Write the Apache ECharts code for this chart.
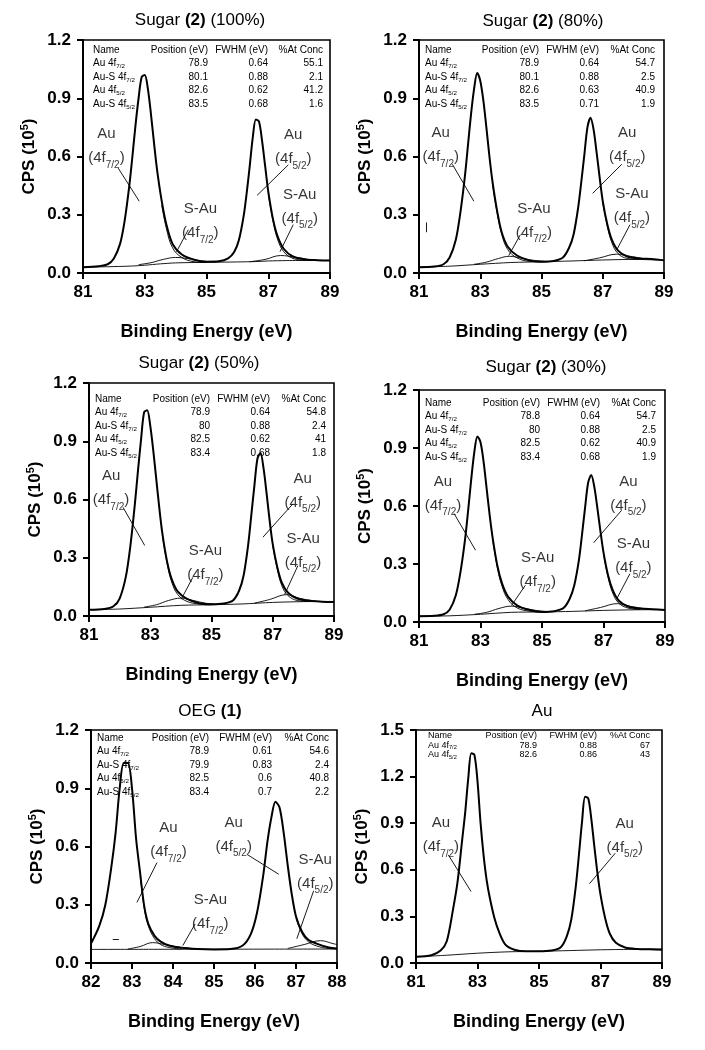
<!DOCTYPE html>
<html>
<head>
<meta charset="UTF-8">
<title>Au 4f XPS</title>
<script src="https://cdn.jsdelivr.net/npm/echarts@6/dist/echarts.min.js"></script>
<style>
html, body { margin: 0; padding: 0; background: #fff; }
#main { width: 705px; height: 1050px; }
</style>
</head>
<body>
<div id="main"></div>
<script>
// binding energy points (eV) used by the 81-89 panels
var xWide = [81, 81.5, 81.8, 82.0, 82.2, 82.35, 82.5, 82.6, 82.7, 82.8, 82.9, 83.0, 83.1, 83.2, 83.3, 83.4, 83.55, 83.7, 83.9, 84.2,
  84.6, 85.0, 85.4, 85.7, 85.9, 86.05, 86.2, 86.3, 86.4, 86.5, 86.6, 86.7, 86.8, 86.9, 87.0, 87.15, 87.3, 87.5, 87.8, 88.2, 88.6, 89];
// OEG panel runs 82-88
var xOeg = [82.0, 82.2, 82.35, 82.5, 82.6, 82.7, 82.8, 82.9, 83.0, 83.1, 83.2, 83.3, 83.4, 83.55, 83.7, 83.9, 84.2, 84.6, 85.0,
  85.4, 85.7, 85.9, 86.05, 86.2, 86.3, 86.4, 86.5, 86.6, 86.7, 86.8, 86.9, 87.0, 87.15, 87.3, 87.5, 87.8, 88.0];

// measured envelopes, CPS (10^5)
var env100 = [0.030, 0.035, 0.045, 0.075, 0.15, 0.27, 0.45, 0.60, 0.76, 0.90, 1.01, 1.02, 0.95, 0.82, 0.67, 0.53, 0.37, 0.25, 0.15, 0.095,
  0.068, 0.058, 0.060, 0.075, 0.11, 0.17, 0.29, 0.41, 0.55, 0.70, 0.79, 0.78, 0.68, 0.55, 0.42, 0.28, 0.19, 0.125, 0.085, 0.070, 0.066, 0.064];
var env80 = [0.030, 0.033, 0.045, 0.08, 0.17, 0.31, 0.50, 0.66, 0.82, 0.95, 1.03, 0.99, 0.89, 0.75, 0.60, 0.47, 0.32, 0.21, 0.135, 0.09,
  0.065, 0.058, 0.062, 0.08, 0.13, 0.20, 0.34, 0.47, 0.61, 0.75, 0.80, 0.74, 0.62, 0.49, 0.37, 0.25, 0.17, 0.115, 0.085, 0.075, 0.072, 0.065];
var env50 = [0.032, 0.036, 0.05, 0.09, 0.20, 0.36, 0.58, 0.75, 0.91, 1.05, 1.06, 0.98, 0.85, 0.70, 0.55, 0.42, 0.28, 0.19, 0.125, 0.088,
  0.066, 0.060, 0.064, 0.08, 0.13, 0.21, 0.37, 0.52, 0.67, 0.81, 0.84, 0.76, 0.63, 0.49, 0.37, 0.25, 0.17, 0.12, 0.09, 0.078, 0.074, 0.072];
var env30 = [0.030, 0.032, 0.04, 0.065, 0.14, 0.26, 0.43, 0.58, 0.74, 0.88, 0.96, 0.93, 0.83, 0.69, 0.55, 0.43, 0.29, 0.20, 0.13, 0.085,
  0.062, 0.052, 0.056, 0.072, 0.12, 0.19, 0.32, 0.45, 0.59, 0.72, 0.76, 0.70, 0.59, 0.47, 0.36, 0.24, 0.165, 0.11, 0.08, 0.07, 0.066, 0.062];
var envOeg = [0.10, 0.19, 0.30, 0.50, 0.67, 0.90, 1.03, 1.03, 0.90, 0.64, 0.46, 0.29, 0.20, 0.14, 0.11, 0.09, 0.078, 0.072, 0.07,
  0.072, 0.09, 0.15, 0.26, 0.45, 0.62, 0.75, 0.83, 0.80, 0.67, 0.50, 0.35, 0.24, 0.16, 0.12, 0.10, 0.08, 0.075];
var envAu = [0.04, 0.05, 0.08, 0.14, 0.34, 0.52, 0.79, 0.97, 1.19, 1.35, 1.34, 1.17, 0.90, 0.69, 0.53, 0.42, 0.29, 0.20, 0.12, 0.085,
  0.075, 0.075, 0.08, 0.10, 0.17, 0.28, 0.50, 0.70, 0.91, 1.07, 1.06, 0.93, 0.75, 0.58, 0.44, 0.29, 0.19, 0.13, 0.10, 0.09, 0.088, 0.085];

// backgrounds, S-Au components and Au component tails, [eV, CPS]
var bg100 = [[81, 0.030], [82, 0.033], [82.6, 0.036], [83, 0.040], [83.5, 0.047], [84, 0.052], [85, 0.055], [86, 0.057], [86.6, 0.059], [87, 0.062], [87.6, 0.064], [89, 0.065]];
var sau7_100 = [[82.8, 0.043], [83.2, 0.053], [83.6, 0.07], [84.0, 0.08], [84.4, 0.074], [84.8, 0.063], [85.3, 0.056]];
var sau5_100 = [[86.4, 0.058], [86.9, 0.07], [87.4, 0.09], [87.9, 0.08], [88.4, 0.067]];
var t7_100 = [[83.55, 0.35], [83.7, 0.23], [83.9, 0.13], [84.2, 0.08], [84.6, 0.058], [85.0, 0.054]];
var t5_100 = [[87.0, 0.41], [87.15, 0.27], [87.3, 0.175], [87.5, 0.11], [87.8, 0.075], [88.2, 0.065]];

var bg80 = [[81, 0.030], [82, 0.035], [83, 0.045], [84, 0.054], [85, 0.058], [86, 0.062], [87, 0.067], [88, 0.07], [89, 0.066]];
var sau7_80 = [[82.8, 0.045], [83.2, 0.056], [83.6, 0.075], [83.95, 0.086], [84.3, 0.078], [84.7, 0.066], [85.2, 0.06]];
var sau5_80 = [[86.4, 0.063], [86.9, 0.078], [87.45, 0.097], [87.9, 0.086], [88.4, 0.072]];
var t7_80 = [[83.4, 0.46], [83.55, 0.31], [83.7, 0.20], [83.9, 0.12], [84.2, 0.078], [84.6, 0.06], [85.0, 0.057]];
var t5_80 = [[87.0, 0.36], [87.15, 0.24], [87.3, 0.155], [87.5, 0.10], [87.8, 0.075], [88.2, 0.07]];

var bg50 = [[81, 0.032], [82, 0.036], [83, 0.045], [84, 0.055], [85, 0.058], [86, 0.062], [87, 0.07], [88, 0.074], [89, 0.075]];
var sau7_50 = [[82.8, 0.046], [83.2, 0.058], [83.6, 0.08], [84.0, 0.092], [84.4, 0.08], [84.8, 0.066], [85.2, 0.06]];
var sau5_50 = [[86.4, 0.066], [86.9, 0.085], [87.45, 0.11], [87.9, 0.09], [88.4, 0.077]];
var t7_50 = [[83.4, 0.41], [83.55, 0.27], [83.7, 0.175], [83.9, 0.11], [84.2, 0.075], [84.6, 0.062], [85.0, 0.058]];
var t5_50 = [[87.0, 0.36], [87.15, 0.24], [87.3, 0.155], [87.5, 0.105], [87.8, 0.08], [88.2, 0.075]];

var bg30 = [[81, 0.030], [82, 0.032], [83, 0.040], [84, 0.050], [85, 0.052], [86, 0.055], [87, 0.060], [88, 0.063], [89, 0.064]];
var sau7_30 = [[82.8, 0.04], [83.2, 0.05], [83.6, 0.07], [84.0, 0.082], [84.4, 0.072], [84.8, 0.06], [85.2, 0.054]];
var sau5_30 = [[86.4, 0.058], [86.9, 0.075], [87.45, 0.095], [87.9, 0.08], [88.4, 0.067]];
var t7_30 = [[83.4, 0.42], [83.55, 0.28], [83.7, 0.185], [83.9, 0.115], [84.2, 0.072], [84.6, 0.056], [85.0, 0.052]];
var t5_30 = [[87.0, 0.35], [87.15, 0.23], [87.3, 0.15], [87.5, 0.097], [87.8, 0.072], [88.2, 0.065]];

var bgOeg = [[82, 0.070], [85, 0.071], [88, 0.072]];
var sau7_oeg = [[82.9, 0.072], [83.2, 0.085], [83.5, 0.105], [83.8, 0.095], [84.2, 0.08], [84.6, 0.072]];
var sau5_oeg = [[86.8, 0.075], [87.2, 0.095], [87.6, 0.115], [87.9, 0.1], [88.0, 0.095]];
var t7_oeg = [[83.2, 0.45], [83.3, 0.28], [83.4, 0.19], [83.55, 0.125], [83.7, 0.095], [83.9, 0.08], [84.2, 0.072]];
var t5_oeg = [[87.0, 0.23], [87.15, 0.15], [87.3, 0.11], [87.5, 0.088], [87.8, 0.075], [88.0, 0.073]];

var bgAu = [[81, 0.04], [82, 0.05], [83, 0.063], [84, 0.072], [85, 0.075], [86, 0.08], [87, 0.085], [88, 0.088], [89, 0.09]];

// fit tables
var tabHead = ['Name', 'Position (eV)', 'FWHM (eV)', '%At Conc'];
var names4 = ['Au 4f{s|7/2}', 'Au-S 4f{s|7/2}', 'Au 4f{s|5/2}', 'Au-S 4f{s|5/2}'];
var names2 = ['Au 4f{s|7/2}', 'Au 4f{s|5/2}'];
var tab100 = [['78.9', '0.64', '55.1'], ['80.1', '0.88', '2.1'], ['82.6', '0.62', '41.2'], ['83.5', '0.68', '1.6']];
var tab80 = [['78.9', '0.64', '54.7'], ['80.1', '0.88', '2.5'], ['82.6', '0.63', '40.9'], ['83.5', '0.71', '1.9']];
var tab50 = [['78.9', '0.64', '54.8'], ['80', '0.88', '2.4'], ['82.5', '0.62', '41'], ['83.4', '0.68', '1.8']];
var tab30 = [['78.8', '0.64', '54.7'], ['80', '0.88', '2.5'], ['82.5', '0.62', '40.9'], ['83.4', '0.68', '1.9']];
var tabOeg = [['78.9', '0.61', '54.6'], ['79.9', '0.83', '2.4'], ['82.5', '0.6', '40.8'], ['83.4', '0.7', '2.2']];
var tabAu = [['78.9', '0.88', '67'], ['82.6', '0.86', '43']];

// peak labels [text, eV, CPS] and leader lines [x1, y1, x2, y2]
var AU7 = 'Au\n(4f{s|7/2})', AU5 = 'Au\n(4f{s|5/2})', SA7 = 'S-Au\n(4f{s|7/2})', SA5 = 'S-Au\n(4f{s|5/2})';
var notes100 = [[AU7, 81.76, 0.655], [AU5, 87.81, 0.65], [SA7, 84.8, 0.266], [SA5, 88.02, 0.342]];
var lead100 = [[82.14, 0.54, 82.82, 0.37], [87.65, 0.557, 86.64, 0.40], [84.41, 0.223, 84.03, 0.11], [87.81, 0.249, 87.38, 0.11]];
var notes80 = [[AU7, 81.71, 0.66], [AU5, 87.8, 0.66], [SA7, 84.75, 0.27], [SA5, 87.95, 0.346]];
var lead80 = [[82.09, 0.56, 82.79, 0.37], [87.62, 0.56, 86.67, 0.41], [84.31, 0.197, 83.93, 0.09], [87.89, 0.249, 87.46, 0.12],
  [81.24, 0.21, 81.24, 0.26]];
var notes50 = [[AU7, 81.72, 0.66], [AU5, 87.98, 0.647], [SA7, 84.8, 0.274], [SA5, 87.99, 0.338]];
var lead50 = [[82.11, 0.56, 82.82, 0.363], [87.66, 0.578, 86.68, 0.406], [84.39, 0.199, 84.01, 0.086], [87.82, 0.259, 87.39, 0.112]];
var notes30 = [[AU7, 81.78, 0.665], [AU5, 87.81, 0.665], [SA7, 84.86, 0.268], [SA5, 87.97, 0.341]];
var lead30 = [[82.14, 0.561, 82.84, 0.371], [87.59, 0.578, 86.68, 0.41], [84.46, 0.19, 84.01, 0.086], [87.86, 0.25, 87.43, 0.12]];
var notesOeg = [[AU7, 83.89, 0.632], [AU5, 85.48, 0.662], [SA7, 84.91, 0.261], [SA5, 87.47, 0.47]];
var leadOeg = [[83.61, 0.517, 83.12, 0.312], [85.80, 0.56, 86.58, 0.457], [84.54, 0.201, 84.24, 0.09], [87.43, 0.372, 87.02, 0.125],
  [82.53, 0.12, 82.68, 0.12]];
var notesAu = [[AU7, 81.81, 0.825], [AU5, 87.79, 0.82]];
var leadAu = [[82.05, 0.696, 82.79, 0.46], [87.48, 0.707, 86.64, 0.51]];

var FONT = '"Liberation Sans", Arial, sans-serif';

function zip(xs, ys) {
  return xs.map(function (x, i) { return [x, ys[i]]; });
}

// grid rect [left, top, width, height]; table cols [name x, pos right, fwhm right, conc right, head y, row step, font]
var panels = [
  { title: 'Sugar {b|(2)} (100%)', tx: 200, ty: 20, rect: [83, 40, 247, 233], xr: [81, 89, 2], ymax: 1.2,
    env: zip(xWide, env100), bg: bg100, parts: [sau7_100, sau5_100, t7_100, t5_100], names: names4, tab: tab100,
    cols: [10, 125, 185, 240, 10, 13.5, 10], notes: notes100, leads: lead100 },
  { title: 'Sugar {b|(2)} (80%)', tx: 543, ty: 21, rect: [419, 40, 245, 233], xr: [81, 89, 2], ymax: 1.2,
    env: zip(xWide, env80), bg: bg80, parts: [sau7_80, sau5_80, t7_80, t5_80], names: names4, tab: tab80,
    cols: [6, 120, 180, 236, 10, 13.5, 10], notes: notes80, leads: lead80 },
  { title: 'Sugar {b|(2)} (50%)', tx: 199, ty: 363, rect: [89, 383, 245, 233], xr: [81, 89, 2], ymax: 1.2,
    env: zip(xWide, env50), bg: bg50, parts: [sau7_50, sau5_50, t7_50, t5_50], names: names4, tab: tab50,
    cols: [6, 121, 181, 237, 16, 13.5, 10], notes: notes50, leads: lead50 },
  { title: 'Sugar {b|(2)} (30%)', tx: 546, ty: 367, rect: [419, 390, 246, 232], xr: [81, 89, 2], ymax: 1.2,
    env: zip(xWide, env30), bg: bg30, parts: [sau7_30, sau5_30, t7_30, t5_30], names: names4, tab: tab30,
    cols: [6, 121, 181, 237, 13, 13.5, 10], notes: notes30, leads: lead30 },
  { title: 'OEG {b|(1)}', tx: 210, ty: 711, rect: [91, 730, 246, 233], xr: [82, 88, 1], ymax: 1.2,
    env: zip(xOeg, envOeg), bg: bgOeg, parts: [sau7_oeg, sau5_oeg, t7_oeg, t5_oeg], names: names4, tab: tabOeg,
    cols: [6, 118, 181, 238, 8, 13.5, 10], notes: notesOeg, leads: leadOeg },
  { title: 'Au', tx: 542, ty: 711, rect: [416, 730, 246, 233], xr: [81, 89, 2], ymax: 1.5,
    env: zip(xWide, envAu), bg: bgAu, parts: [], names: names2, tab: tabAu,
    cols: [12, 121, 181, 234, 6, 9.5, 9], notes: notesAu, leads: leadAu }
];

var grids = [], xAxes = [], yAxes = [], series = [], graphics = [];

panels.forEach(function (p, i) {
  var L = p.rect[0], T = p.rect[1];
  grids.push({ left: L, top: T, width: p.rect[2], height: p.rect[3], show: true, borderColor: '#000', borderWidth: 1.6 });

  var axisCommon = {
    gridIndex: i, type: 'value',
    axisLine: { onZero: false, lineStyle: { color: '#000', width: 2 } },
    axisTick: { inside: false, length: 6, lineStyle: { color: '#000', width: 2 } },
    splitLine: { show: false },
    nameLocation: 'middle'
  };
  xAxes.push(Object.assign({}, axisCommon, {
    min: p.xr[0], max: p.xr[1], interval: p.xr[2],
    axisLabel: { color: '#000', fontFamily: FONT, fontWeight: 'bold', fontSize: 17, margin: 11 },
    name: 'Binding Energy (eV)', nameGap: 50,
    nameTextStyle: { color: '#000', fontFamily: FONT, fontWeight: 'bold', fontSize: 18 }
  }));
  yAxes.push(Object.assign({}, axisCommon, {
    min: 0, max: p.ymax, interval: 0.3,
    axisLabel: { color: '#000', fontFamily: FONT, fontWeight: 'bold', fontSize: 17, margin: 12,
      formatter: function (v) { return v.toFixed(1); } },
    name: 'CPS (10{p|5})', nameGap: 44,
    nameTextStyle: { color: '#000', fontFamily: FONT, fontWeight: 'bold', fontSize: 17, lineHeight: 20,
      rich: { p: { fontFamily: FONT, fontWeight: 'bold', fontSize: 11, lineHeight: 12, verticalAlign: 'top' } } }
  }));

  var thin = { color: '#000', width: 0.9 };
  series.push({
    type: 'line', xAxisIndex: i, yAxisIndex: i, data: p.env, showSymbol: false, smooth: 0.3,
    lineStyle: { color: '#000', width: 2 }, silent: true, z: 4
  });
  series.push({
    type: 'line', xAxisIndex: i, yAxisIndex: i, data: p.bg, showSymbol: false, smooth: 0.3,
    lineStyle: thin, silent: true, z: 3,
    markLine: {
      silent: true, symbol: ['none', 'none'], label: { show: false },
      lineStyle: { color: '#000', width: 0.9, type: 'solid' },
      data: p.leads.map(function (l) { return [{ coord: [l[0], l[1]] }, { coord: [l[2], l[3]] }]; })
    }
  });
  p.parts.forEach(function (s) {
    series.push({
      type: 'line', xAxisIndex: i, yAxisIndex: i, data: s, showSymbol: false, smooth: 0.4,
      lineStyle: thin, silent: true, z: 3
    });
  });
  series.push({
    type: 'scatter', xAxisIndex: i, yAxisIndex: i, symbolSize: 0, silent: true, z: 5,
    data: p.notes.map(function (n) { return { value: [n[1], n[2]], label: { formatter: n[0] } }; }),
    label: {
      show: true, position: 'inside', color: '#000', fontFamily: FONT, fontSize: 15, lineHeight: 24,
      rich: { s: { fontFamily: FONT, fontSize: 10, lineHeight: 15, verticalAlign: 'bottom', color: '#000' } }
    }
  });

  // title
  graphics.push({
    type: 'text', x: p.tx, y: p.ty, silent: true,
    style: { text: p.title, fill: '#000', fontFamily: FONT, fontSize: 17, align: 'center', verticalAlign: 'middle',
      rich: { b: { fontFamily: FONT, fontSize: 17, fontWeight: 'bold', fill: '#000' } } }
  });

  // fit table
  var c = p.cols, fs = c[6];
  var rich = { s: { fontFamily: FONT, fontSize: fs * 0.62, lineHeight: fs * 0.9, verticalAlign: 'bottom', fill: '#000' } };
  function txt(s, x, y, align) {
    graphics.push({
      type: 'text', x: x, y: y, silent: true,
      style: { text: s, fill: '#000', fontFamily: FONT, fontSize: fs, lineHeight: fs * 1.2, align: align, verticalAlign: 'middle', rich: rich }
    });
  }
  var hy = T + c[4];
  txt(tabHead[0], L + c[0], hy, 'left');
  txt(tabHead[1], L + c[1], hy, 'right');
  txt(tabHead[2], L + c[2], hy, 'right');
  txt(tabHead[3], L + c[3], hy, 'right');
  p.tab.forEach(function (r, k) {
    var y = hy + c[5] * (k + 1);
    txt(p.names[k], L + c[0], y, 'left');
    txt(r[0], L + c[1], y, 'right');
    txt(r[1], L + c[2], y, 'right');
    txt(r[2], L + c[3], y, 'right');
  });
});

var chart = echarts.init(document.getElementById('main'));
chart.setOption({
  animation: false,
  backgroundColor: '#fff',
  grid: grids,
  xAxis: xAxes,
  yAxis: yAxes,
  series: series,
  graphic: graphics
});
</script>
</body>
</html>
